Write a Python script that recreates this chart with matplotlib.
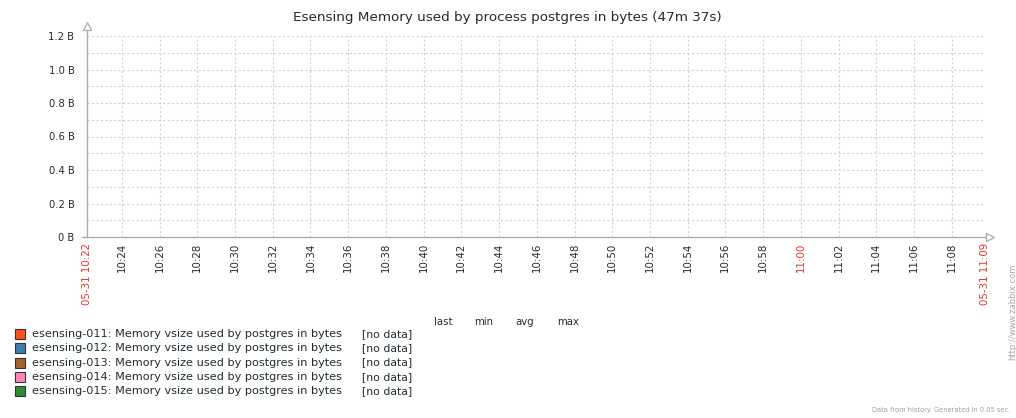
import matplotlib
matplotlib.use('Agg')
import matplotlib.pyplot as plt
from matplotlib.patches import Rectangle

# time window in seconds since midnight (05-31 10:22:09 .. 11:09:46)
t_start = 10 * 3600 + 22 * 60 + 9
t_end = 11 * 3600 + 9 * 60 + 46

hosts = ['esensing-011', 'esensing-012', 'esensing-013', 'esensing-014', 'esensing-015']
colors = ['#ff4f1f', '#3f7fb0', '#a8602e', '#ff88b8', '#2e8b30']
# no values were collected in the window
values = [[], [], [], [], []]
times = [[], [], [], [], []]

y_ticks = [0, 0.2, 0.4, 0.6, 0.8, 1.0, 1.2]
y_labels = ['0 B', '0.2 B', '0.4 B', '0.6 B', '0.8 B', '1.0 B', '1.2 B']
legend_cols = ['last', 'min', 'avg', 'max']

W, H = 1016, 418
fig = plt.figure(figsize=(W / 100, H / 100), dpi=100)
x0, x1, y0, y1 = 87, 985, 237, 36
ax = fig.add_axes([x0 / W, 1 - y0 / H, (x1 - x0) / W, (y0 - y1) / H])

for t, v, c in zip(times, values, colors):
    ax.plot(t, v, color=c)

ax.set_xlim(t_start, t_end)
ax.set_ylim(0, 1.2)

grid_c = '#cbd3da'
axis_c = '#a4aeb8'
dash = (0, (2, 2))

# horizontal grid every 0.1
for i in range(1, 13):
    ax.axhline(i * 0.1, color=grid_c, lw=0.8, ls=dash, zorder=0)

# x ticks every 2 minutes
ticks = [t_start]
labels = ['05-31 10:22']
m = 10 * 60 + 24
while m * 60 < t_end:
    ticks.append(m * 60)
    labels.append('%02d:%02d' % (m // 60, m % 60))
    m += 2
ticks.append(t_end)
labels.append('05-31 11:09')
for t in ticks[1:-1]:
    ax.axvline(t, color=grid_c, lw=0.8, ls=dash, zorder=0)

ax.set_xticks(ticks)
ax.set_xticklabels(labels, rotation=90, fontsize=7.4)
for lab, txt in zip(ax.get_xticklabels(), labels):
    if txt.startswith('05-31') or txt == '11:00':
        lab.set_color('#e8322e')
    else:
        lab.set_color('#1f2c33')
ax.set_yticks(y_ticks)
ax.set_yticklabels(y_labels, fontsize=7.2, color='#1f2c33')
ax.tick_params(length=0, pad=4)
ax.tick_params(axis='y', pad=9)
for s in ax.spines.values():
    s.set_visible(False)

# axis lines with hollow arrows
ext_y = 10 / (y0 - y1)
ext_x = 5 / (x1 - x0)
ax.plot([0, 0], [0, 1 + ext_y], color=axis_c, lw=1, transform=ax.transAxes, clip_on=False)
ax.plot([-5 / (x1 - x0), 1 + ext_x], [0, 0], color=axis_c, lw=1, transform=ax.transAxes, clip_on=False)
ax.plot([0], [1 + ext_y], marker='^', ms=6, mfc='white', mec=axis_c, mew=0.9,
        transform=ax.transAxes, clip_on=False)
ax.plot([1 + ext_x], [0], marker='>', ms=6, mfc='white', mec=axis_c, mew=0.9,
        transform=ax.transAxes, clip_on=False)

fig.text(507 / W, 1 - 18 / H, 'Esensing Memory used by process postgres in bytes (47m 37s)',
         ha='center', va='center', fontsize=9.7, color='#1f2c33')

# legend
head_x = [443, 484, 525, 568]
for x, name in zip(head_x, legend_cols):
    fig.text(x / W, 1 - 322 / H, name, ha='center', va='center', fontsize=7.3, color='#1f2c33')
row_y = [334, 348.3, 362.5, 376.8, 391]
for y, host, c in zip(row_y, hosts, colors):
    fig.patches.append(Rectangle((15 / W, 1 - (y + 5) / H), 10 / W, 10 / H, facecolor=c,
                                 edgecolor='#333333', lw=0.8, transform=fig.transFigure))
    fig.text(32 / W, 1 - y / H, host + ': Memory vsize used by postgres in bytes',
             ha='left', va='center', fontsize=8.1, color='#1f2c33')
    fig.text(362 / W, 1 - y / H, '[no data]', ha='left', va='center', fontsize=7.8, color='#1f2c33')

fig.text(1010 / W, 1 - 410 / H, 'Data from history. Generated in 0.05 sec.',
         ha='right', va='center', fontsize=4.8, color='#a0a0a0')
fig.text(1013 / W, 1 - 360 / H, 'http://www.zabbix.com', rotation=90,
         ha='center', va='bottom', fontsize=6, color='#a8a8a8')

fig.savefig('out.png', dpi=100, facecolor='white')
